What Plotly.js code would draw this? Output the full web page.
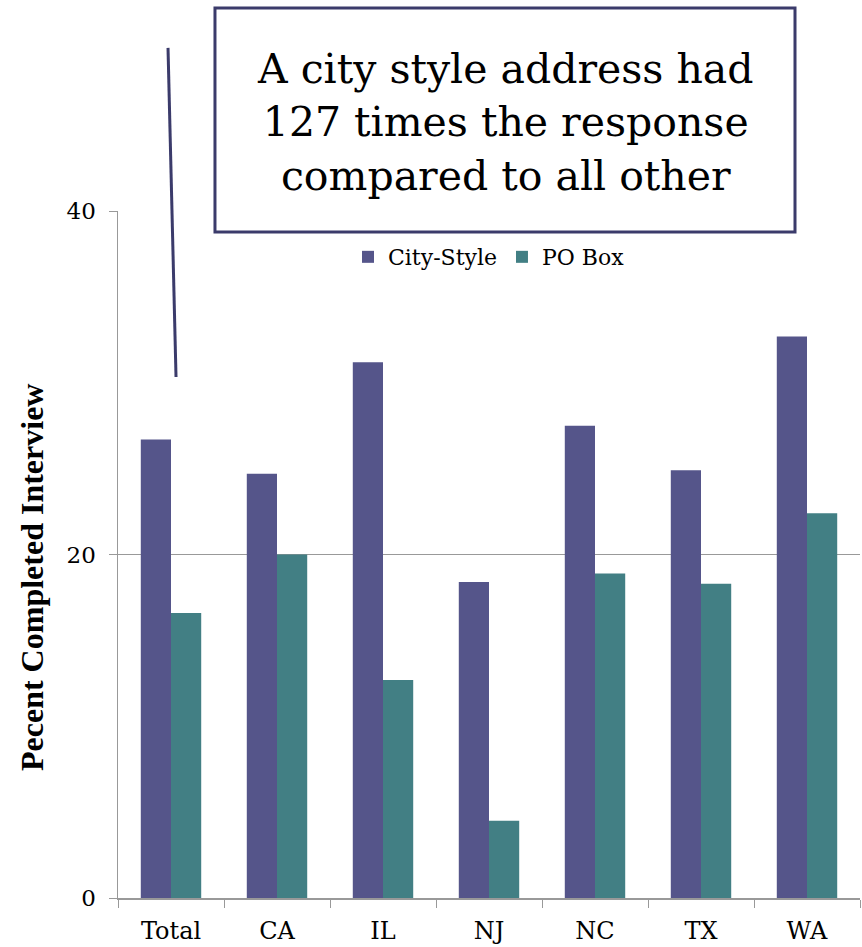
<!DOCTYPE html>
<html>
<head>
<meta charset="utf-8">
<script src="https://cdn.plot.ly/plotly-3.0.1.min.js"></script>
<style>html,body{margin:0;padding:0;background:#fff;}#chart{width:862px;height:947px;}</style>
</head>
<body>
<div id="chart"></div>
<script>
const categories = ["Total", "CA", "IL", "NJ", "NC", "TX", "WA"];
const cityStyle = [26.7, 24.7, 31.2, 18.4, 27.5, 24.9, 32.7];
const poBox = [16.6, 20.0, 12.7, 4.5, 18.9, 18.3, 22.4];
const seriesNames = ["City-Style", "PO Box"];
const yTicks = [0, 20, 40];
const yTitle = "Pecent Completed Interview";
const calloutText = "A city style address had<br>127 times the response<br>compared to all other";

const serif = "DejaVu Serif";
const serifB = "Liberation Serif";

const traces = [
  {type: "bar", name: seriesNames[0], x: categories, y: cityStyle, marker: {color: "#55558a"}},
  {type: "bar", name: seriesNames[1], x: categories, y: poBox, marker: {color: "#427f84"}}
];

const layout = {
  width: 862, height: 947,
  font: {family: serif},
  margin: {l: 118, r: 2, t: 211, b: 49},
  paper_bgcolor: "#fff", plot_bgcolor: "#fff",
  barmode: "group", bargap: 0.43, bargroupgap: 0,
  showlegend: true,
  legend: {orientation: "h", x: 0.5, xanchor: "center", y: 0.933, yanchor: "middle",
           font: {family: serif, size: 22, color: "#000"}, bgcolor: "rgba(0,0,0,0)", itemwidth: 20},
  xaxis: {
    type: "category", tickson: "boundaries", ticks: "outside", ticklen: 8, tickcolor: "#999",
    showline: true, linecolor: "#999", linewidth: 1.5, showgrid: false,
    tickfont: {family: serif, size: 24, color: "#000"}, automargin: false, ticklabelstandoff: 11
  },
  yaxis: {
    range: [0, 40], tickvals: yTicks, ticktext: yTicks.map(String),
    ticks: "outside", ticklen: 8, tickcolor: "#999",
    showline: true, linecolor: "#999", linewidth: 1.5,
    showgrid: true, gridcolor: "#999", gridwidth: 1.5, zeroline: false,
    tickfont: {family: serif, size: 23, color: "#000"}, automargin: false, ticklabelstandoff: 8
  },
  shapes: [
    {type: "line", xref: "paper", yref: "paper", x0: 0.0674, y0: 1.2374, x1: 0.0782, y1: 0.7584,
     line: {color: "#3b3b6b", width: 3}},
    {type: "rect", xref: "paper", yref: "paper", x0: 0.1307, y0: 0.9694, x1: 0.9124, y1: 1.2955,
     line: {color: "#3b3b6b", width: 3}, fillcolor: "#fff", layer: "above"}
  ],
  annotations: [
    {xref: "paper", yref: "paper", x: 0.5216, y: 1.129, xanchor: "center", yanchor: "middle",
     text: calloutText, showarrow: false, align: "center",
     font: {family: serif, size: 41, color: "#000"}},
    {xref: "paper", yref: "paper", x: -0.1159, y: 0.4658, xanchor: "center", yanchor: "middle",
     text: "<b>" + yTitle + "</b>", textangle: -90, showarrow: false,
     font: {family: serifB, size: 32, color: "#000"}}
  ]
};

Plotly.newPlot("chart", traces, layout, {displayModeBar: false, staticPlot: true});
</script>
</body>
</html>
